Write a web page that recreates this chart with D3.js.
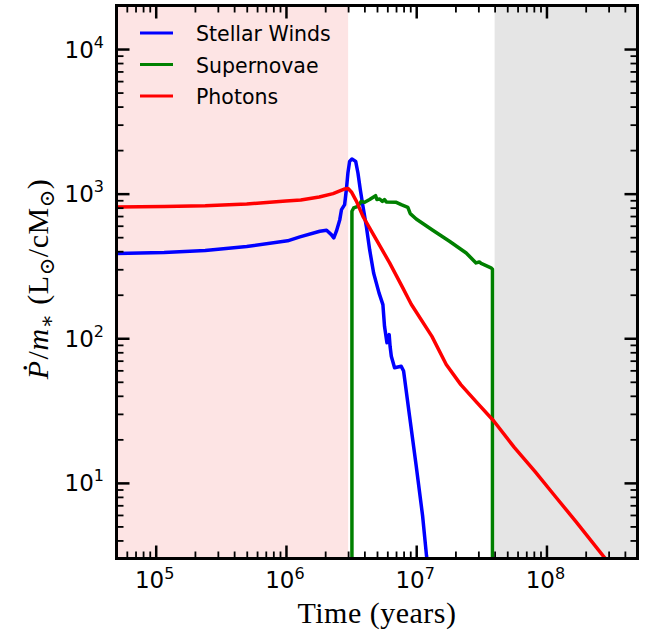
<!DOCTYPE html>
<html>
<head>
<meta charset="utf-8">
<script src="https://cdn.jsdelivr.net/npm/d3@7"></script>
<style>
  html, body { margin: 0; padding: 0; background: #fff; }
  svg { display: block; }
</style>
</head>
<body>
<svg id="chart" width="645" height="632"></svg>
<script>
// Momentum injection rate per unit stellar mass vs. time, by feedback channel.

// Stellar winds
const windsTime = [5e4, 1.16e5, 2.4e5, 5e5, 1.03e6, 1.28e6, 1.82e6, 2.05e6, 2.23e6, 2.33e6,
  2.44e6, 2.59e6, 2.67e6, 2.82e6, 2.91e6, 2.99e6, 3.08e6, 3.21e6, 3.43e6, 3.57e6,
  3.72e6, 3.9e6, 4.14e6, 4.39e6, 4.71e6, 5.18e6, 5.55e6, 5.71e6, 5.96e6, 6.2e6,
  6.3e6, 6.44e6, 6.82e6, 7.67e6, 8.0e6, 8.89e6, 1.0e7, 1.12e7, 1.2e7, 1.23e7];
const windsValue = [385, 392, 405, 431, 472, 502, 550, 558, 521, 494,
  550, 661, 776, 839, 1067, 1390, 1671, 1738, 1671, 1390,
  1067, 817, 594, 410, 283, 206, 171, 121, 93, 106,
  88, 75, 62.5, 64, 59.3, 29, 13.1, 5.9, 3.13, 2.7];

// Supernovae
const snTime = [3.21e6, 3.21e6, 3.31e6, 3.57e6, 3.79e6, 4.02e6, 4.39e6, 4.71e6, 4.88e6, 4.99e6,
  5.24e6, 5.5e6, 5.71e6, 5.89e6, 7.03e6, 7.67e6, 8.63e6, 9.0e6, 1.0e7, 1.34e7,
  1.8e7, 2.42e7, 2.88e7, 3.05e7, 3.15e7, 3.75e7, 3.85e7, 3.85e7];
const snValue = [1, 755, 796, 817, 885, 871, 910, 948, 968, 910,
  918, 885, 910, 877, 871, 839, 804, 728, 668, 558,
  469, 389, 332, 337, 329, 307, 300, 1];

// Photons (radiation pressure)
const photonTime = [5e4, 1.16e5, 2.4e5, 5e5, 7.1e5, 1.0e6, 1.3e6, 1.8e6, 2.3e6, 2.83e6,
  3.0e6, 3.18e6, 3.48e6, 3.9e6, 4.94e6, 6.25e6, 7.89e6, 9.16e6, 1.32e7, 1.7e7,
  2.2e7, 2.94e7, 3.94e7, 5.66e7, 8.15e7, 1.17e8, 1.69e8, 2.81e8, 3.2e8];
const photonValue = [810, 815, 824, 847, 869, 890, 903, 948, 1000, 1077,
  1085, 1028, 885, 697, 481, 332, 223, 172, 103, 65.8,
  47.8, 35.7, 26.8, 17.6, 12.0, 8.05, 5.38, 3.02, 2.6];

const seriesNames = ["Stellar Winds", "Supernovae", "Photons"];
const seriesColors = ["#0000ff", "#008000", "#ff0000"];

// Shaded epochs (years)
const earlySpan = [5e4, 3e6];
const lateSpan = [4e7, 5e8];

// Axis limits and labelled decades
const xLimits = [5e4, 5e8];
const yLimits = [3, 2e4];
const xTickExponents = [5, 6, 7, 8];
const yTickExponents = [1, 2, 3, 4];

const svg = d3.select("#chart");
const L = 116.5, R = 637.5, T = 5.5, B = 558.5;

const x = d3.scaleLog().domain(xLimits).range([L, R]);
const y = d3.scaleLog().domain(yLimits).range([B, T]);

// Shaded regions
svg.append("rect")
  .attr("x", x(earlySpan[0])).attr("y", T)
  .attr("width", x(earlySpan[1]) - x(earlySpan[0])).attr("height", B - T)
  .attr("fill", "#fde4e4");
svg.append("rect")
  .attr("x", x(lateSpan[0])).attr("y", T)
  .attr("width", x(lateSpan[1]) - x(lateSpan[0])).attr("height", B - T)
  .attr("fill", "#e5e5e5");

// Curves, clipped to the plotting area
svg.append("clipPath").attr("id", "plotClip")
  .append("rect").attr("x", L).attr("y", T).attr("width", R - L).attr("height", B - T);

const line = d3.line().x(d => x(d[0])).y(d => y(d[1]));
const series = [
  d3.zip(windsTime, windsValue),
  d3.zip(snTime, snValue),
  d3.zip(photonTime, photonValue)
];
const curves = svg.append("g").attr("clip-path", "url(#plotClip)");
series.forEach((pts, i) => {
  curves.append("path")
    .attr("d", line(pts))
    .attr("fill", "none")
    .attr("stroke", seriesColors[i])
    .attr("stroke-width", 3.5)
    .attr("stroke-linejoin", "round");
});

// Tick positions
const minorX = [];
for (let k = 4; k <= 8; k++) for (let m = 2; m <= 9; m++) {
  const v = m * Math.pow(10, k);
  if (v > xLimits[0] && v < xLimits[1]) minorX.push(v);
}
const minorY = [];
for (let k = 0; k <= 4; k++) for (let m = 2; m <= 9; m++) {
  const v = m * Math.pow(10, k);
  if (v > yLimits[0] && v < yLimits[1]) minorY.push(v);
}
const majorX = xTickExponents.map(e => Math.pow(10, e));
const majorY = yTickExponents.map(e => Math.pow(10, e));

function styleAxis(g, w) {
  g.select(".domain").remove();
  g.selectAll(".tick text").remove();
  g.selectAll(".tick line").attr("stroke", "#000").attr("stroke-width", w);
}
const MAJ = 13, MIN = 7;
[[d3.axisBottom, B, majorX, MAJ, 2.5], [d3.axisBottom, B, minorX, MIN, 1.8],
 [d3.axisTop, T, majorX, MAJ, 2.5], [d3.axisTop, T, minorX, MIN, 1.8]].forEach(([ax, pos, vals, len, w]) => {
  svg.append("g").attr("transform", `translate(0,${pos})`)
    .call(ax(x).tickValues(vals).tickSize(-len).tickFormat(""))
    .call(g => styleAxis(g, w));
});
[[d3.axisLeft, L, majorY, MAJ, 2.5], [d3.axisLeft, L, minorY, MIN, 1.8],
 [d3.axisRight, R, majorY, MAJ, 2.5], [d3.axisRight, R, minorY, MIN, 1.8]].forEach(([ax, pos, vals, len, w]) => {
  svg.append("g").attr("transform", `translate(${pos},0)`)
    .call(ax(y).tickValues(vals).tickSize(-len).tickFormat(""))
    .call(g => styleAxis(g, w));
});

// Frame
svg.append("rect")
  .attr("x", L).attr("y", T).attr("width", R - L).attr("height", B - T)
  .attr("fill", "none").attr("stroke", "#000").attr("stroke-width", 3);

// Tick labels as powers of ten
const tickFont = "'DejaVu Sans', sans-serif";
const xl = svg.append("g").attr("font-family", tickFont).attr("fill", "#000");
xl.selectAll("text").data(xTickExponents).join("text")
  .attr("x", d => x(Math.pow(10, d)) - 1)
  .attr("y", 588)
  .attr("text-anchor", "middle")
  .attr("font-size", 23)
  .each(function(d) {
    const t = d3.select(this);
    t.append("tspan").text("10");
    t.append("tspan").attr("font-size", 16).attr("dy", -9).text(d);
  });
const yl = svg.append("g").attr("font-family", tickFont).attr("fill", "#000");
yl.selectAll("text").data(yTickExponents).join("text")
  .attr("x", 104)
  .attr("y", d => y(Math.pow(10, d)) + 8.5)
  .attr("text-anchor", "end")
  .attr("font-size", 23)
  .each(function(d) {
    const t = d3.select(this);
    t.append("tspan").text("10");
    t.append("tspan").attr("font-size", 16).attr("dy", -10).text(d);
  });

// Axis titles
const serif = "'Liberation Serif', 'DejaVu Serif', serif";
svg.append("text")
  .attr("x", (L + R) / 2).attr("y", 623)
  .attr("text-anchor", "middle")
  .attr("font-family", serif).attr("font-size", 30)
  .attr("letter-spacing", 0.5)
  .text("Time (years)");

// P with a time-derivative dot, per unit stellar mass
const yt = svg.append("text")
  .attr("transform", `translate(48,${(T + B) / 2 - 3}) rotate(-90)`)
  .attr("text-anchor", "middle")
  .attr("font-family", serif).attr("font-size", 30)
  .attr("letter-spacing", 0.5);
yt.append("tspan").attr("font-style", "italic").text("P");
yt.append("tspan").attr("dx", -11).attr("dy", -21).text(".");
yt.append("tspan").attr("dx", 4).attr("dy", 21).text("/");
yt.append("tspan").attr("font-style", "italic").text("m");
yt.append("tspan").attr("font-size", 21).attr("dy", 6).text("\u2217");
yt.append("tspan").attr("dy", -6).attr("dx", 9).text("(L");
yt.append("tspan").attr("font-size", 21).attr("dy", 6).text("\u2299");
yt.append("tspan").attr("dy", -6).text("/cM");
yt.append("tspan").attr("font-size", 21).attr("dy", 6).text("\u2299");
yt.append("tspan").attr("dy", -6).text(")");

// Legend
const legendY = [33, 64.5, 96];
const lg = svg.append("g");
seriesNames.forEach((name, i) => {
  lg.append("line")
    .attr("x1", 140).attr("x2", 173)
    .attr("y1", legendY[i]).attr("y2", legendY[i])
    .attr("stroke", seriesColors[i]).attr("stroke-width", 3.2);
  lg.append("text")
    .attr("x", 196).attr("y", legendY[i] + 8)
    .attr("font-family", tickFont).attr("font-size", 20.5)
    .attr("fill", "#000")
    .text(name);
});
</script>
</body>
</html>
